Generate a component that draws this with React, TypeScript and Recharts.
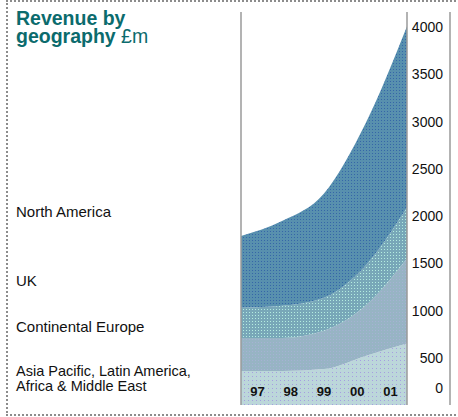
import React from 'react';
import { AreaChart, Area, XAxis, YAxis } from 'recharts';

// years and revenue by region (£m), stacked bottom to top
const years = ['97', '98', '99', '00', '01'];
const asiaPacific = [360, 360, 380, 520, 650];
const continentalEurope = [350, 350, 405, 530, 900];
const uk = [320, 340, 350, 425, 540];
const northAmerica = [760, 900, 1105, 1505, 1920];
const yTicks = [0, 500, 1000, 1500, 2000, 2500, 3000, 3500, 4000];

const chartData = years.map((year, i) => ({
    year,
    asia: asiaPacific[i],
    europe: continentalEurope[i],
    uk: uk[i],
    america: northAmerica[i],
}));

const FONT = '"Liberation Sans", Arial, Helvetica, sans-serif';
const PLOT_W = 166;
const DOMAIN: [number, number] = [0, 4160];
const MARGIN = { top: 12, right: 7, bottom: 11, left: 240 };
const AXIS_LINE = { stroke: '#9a9a9a', strokeWidth: 1.5 };

// x labels sit in the middle of five bands, not on the data points
const YearTick = (props: any) => {
    const { x, y, payload, index } = props;
    const shift = PLOT_W * (0.1 - 0.05 * index);
    return (
        <text x={x + shift} y={y - 17} textAnchor="middle" fontSize={13} fontWeight="bold" fontFamily={FONT} fill="#111">
            {payload.value}
        </text>
    );
};

const ValueTick = (props: any) => {
    const { x, y, payload } = props;
    const lift = payload.value === 0 ? -17 : 0;
    return (
        <text x={x + 36} y={y + lift + 5} textAnchor="end" fontSize={14} fontFamily={FONT} fill="#111">
            {payload.value}
        </text>
    );
};

const label: React.CSSProperties = {
    position: 'absolute',
    left: 16,
    fontSize: 15,
    lineHeight: '15px',
    fontFamily: FONT,
    color: '#111',
    whiteSpace: 'nowrap',
};

const title: React.CSSProperties = {
    position: 'absolute',
    left: 16,
    fontSize: 19.5,
    lineHeight: '17px',
    height: 17,
    fontWeight: 'bold',
    fontFamily: FONT,
    color: '#0b6b6d',
    whiteSpace: 'nowrap',
};

const layer: React.CSSProperties = { position: 'absolute', left: 0, top: 0 };

export default function App() {
    return (
        <div style={{ position: 'absolute', left: 0, top: 0, width: 458, height: 417, background: '#fff', overflow: 'hidden' }}>
            {/* dotted frame */}
            <div
                style={{
                    position: 'absolute',
                    left: 6,
                    top: 0,
                    width: 452,
                    height: 412,
                    borderTop: '2px dotted #8c8c8c',
                    borderLeft: '2px dotted #8c8c8c',
                    borderBottom: '2px dotted #8c8c8c',
                }}
            />
            <div style={{ ...title, top: 10 }}>Revenue by</div>
            <div style={{ ...title, top: 28 }}>
                geography <span style={{ fontWeight: 'normal' }}>£m</span>
            </div>

            <div style={{ ...label, top: 204 }}>North America</div>
            <div style={{ ...label, top: 273 }}>UK</div>
            <div style={{ ...label, top: 319 }}>Continental Europe</div>
            <div style={{ ...label, top: 364, fontSize: 14.5 }}>
                Asia Pacific, Latin America,
                <br />
                Africa &amp; Middle East
            </div>

            {/* stacked areas with value axis */}
            <div style={layer}>
                <AreaChart width={458} height={417} data={chartData} margin={MARGIN}>
                    <defs>
                        <pattern id="patNA" width="3" height="3" patternUnits="userSpaceOnUse">
                            <rect width="3" height="3" fill="#5890ae" />
                            <rect width="1" height="1" fill="#3566a8" />
                        </pattern>
                        <pattern id="patUK" width="3" height="3" patternUnits="userSpaceOnUse">
                            <rect width="3" height="3" fill="#78a7b8" />
                            <rect width="1" height="1" fill="#b4ece0" />
                        </pattern>
                        <pattern id="patCE" width="3" height="3" patternUnits="userSpaceOnUse">
                            <rect width="3" height="3" fill="#97b4c4" />
                            <rect width="1" height="1" fill="#a6b2d4" />
                        </pattern>
                        <pattern id="patAP" width="4" height="4" patternUnits="userSpaceOnUse">
                            <rect width="4" height="4" fill="#bcd7da" />
                            <rect width="1" height="1" fill="#a69ee0" />
                        </pattern>
                    </defs>
                    <XAxis dataKey="year" height={1} axisLine={false} tickLine={false} tick={false} />
                    <YAxis yAxisId="left" orientation="left" width={1} domain={DOMAIN} tick={false} tickLine={false} axisLine={false} />
                    <YAxis
                        orientation="right"
                        width={43}
                        domain={DOMAIN}
                        ticks={yTicks}
                        interval={0}
                        tickSize={0}
                        tickMargin={0}
                        tickLine={false}
                        axisLine={AXIS_LINE}
                        tick={<ValueTick />}
                    />
                    <YAxis yAxisId="frame" orientation="right" width={1} domain={DOMAIN} tick={false} tickLine={false} axisLine={AXIS_LINE} />
                    <Area type="monotone" dataKey="asia" stackId="a" stroke="none" fill="url(#patAP)" fillOpacity={1} isAnimationActive={false} />
                    <Area type="monotone" dataKey="europe" stackId="a" stroke="none" fill="url(#patCE)" fillOpacity={1} isAnimationActive={false} />
                    <Area type="monotone" dataKey="uk" stackId="a" stroke="none" fill="url(#patUK)" fillOpacity={1} isAnimationActive={false} />
                    <Area type="monotone" dataKey="america" stackId="a" stroke="none" fill="url(#patNA)" fillOpacity={1} isAnimationActive={false} />
                    <Area yAxisId="left" type="monotone" dataKey="america" stroke="none" fill="none" isAnimationActive={false} />
                    <Area yAxisId="frame" type="monotone" dataKey="america" stroke="none" fill="none" isAnimationActive={false} />
                </AreaChart>
            </div>

            {/* year labels and left edge drawn on top of the areas */}
            <div style={layer}>
                <AreaChart width={458} height={417} data={chartData} margin={MARGIN}>
                    <XAxis dataKey="year" height={1} axisLine={false} tickLine={false} interval={0} tick={<YearTick />} />
                    <YAxis yAxisId="left" orientation="left" width={1} domain={DOMAIN} tick={false} tickLine={false} axisLine={AXIS_LINE} />
                    <YAxis orientation="right" width={43} domain={DOMAIN} tick={false} tickLine={false} axisLine={false} />
                    <YAxis yAxisId="frame" orientation="right" width={1} domain={DOMAIN} tick={false} tickLine={false} axisLine={false} />
                    <Area yAxisId="left" type="monotone" dataKey="america" stroke="none" fill="none" isAnimationActive={false} />
                    <Area type="monotone" dataKey="america" stroke="none" fill="none" isAnimationActive={false} />
                    <Area yAxisId="frame" type="monotone" dataKey="america" stroke="none" fill="none" isAnimationActive={false} />
                </AreaChart>
            </div>
        </div>
    );
}
